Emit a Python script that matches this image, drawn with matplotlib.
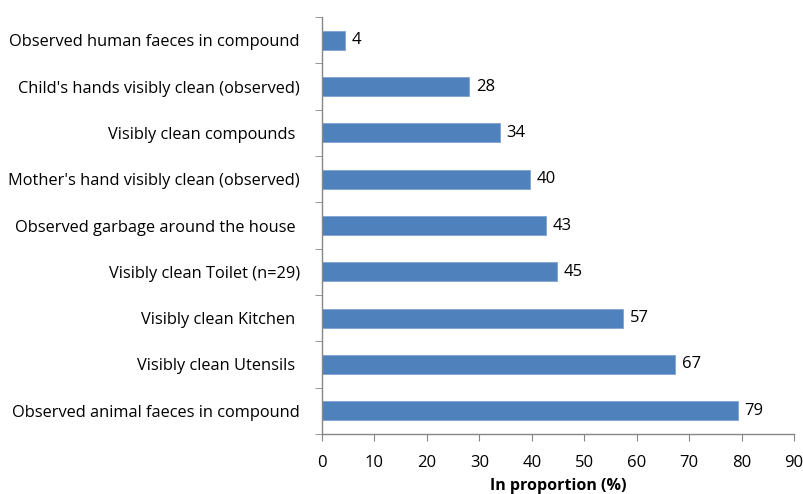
import numpy as np
import matplotlib.pyplot as plt

# categories, bottom to top as in the chart
categories = ['Observed animal faeces in compound',
              'Visibly clean Utensils ',
              'Visibly clean Kitchen ',
              'Visibly clean Toilet (n=29)',
              'Observed garbage around the house ',
              "Mother's hand visibly clean (observed)",
              'Visibly clean compounds ',
              "Child's hands visibly clean (observed)",
              'Observed human faeces in compound']
values = [79.3, 67.3, 57.4, 44.8, 42.7, 39.7, 33.9, 28.0, 4.4]
x_ticks = [0, 10, 20, 30, 40, 50, 60, 70, 80, 90]

plt.rcParams['font.family'] = ['Open Sans', 'DejaVu Sans']

fig = plt.figure(figsize=(8.04, 4.94), dpi=100)
ax = fig.add_axes([0.4005, 0.1215, 0.5871, 0.844])

pos = np.arange(len(categories))
ax.barh(pos, values, height=0.41, color='#4F81BD', edgecolor='#7FA3D0', linewidth=0.6, zorder=2)
for p, v in zip(pos, values):
    ax.text(v + 1.3, p, '%.0f' % v, va='center', ha='left', fontsize=12, color='#000000')

ax.set_xlim(0, 90)
ax.set_ylim(-0.5, len(categories) - 0.5)
ax.set_xticks(x_ticks)
ax.set_xticklabels([str(t) for t in x_ticks], fontsize=12)
ax.set_yticks(pos)
ax.set_yticklabels(categories, fontsize=11.8)
ax.set_yticks(np.arange(-0.5, len(categories)), minor=True)
ax.tick_params(axis='y', which='major', length=0, pad=16)
ax.tick_params(axis='y', which='minor', length=5, color='#868686', direction='out')
ax.tick_params(axis='x', length=5, color='#868686', direction='out', pad=10)

for s in ['top', 'right']:
    ax.spines[s].set_visible(False)
for s in ['left', 'bottom']:
    ax.spines[s].set_color('#868686')
    ax.spines[s].set_linewidth(1.0)

ax.set_xlabel('In proportion (%)', fontsize=11.5, fontweight='bold', labelpad=5)

fig.savefig('out.png', dpi=100)
